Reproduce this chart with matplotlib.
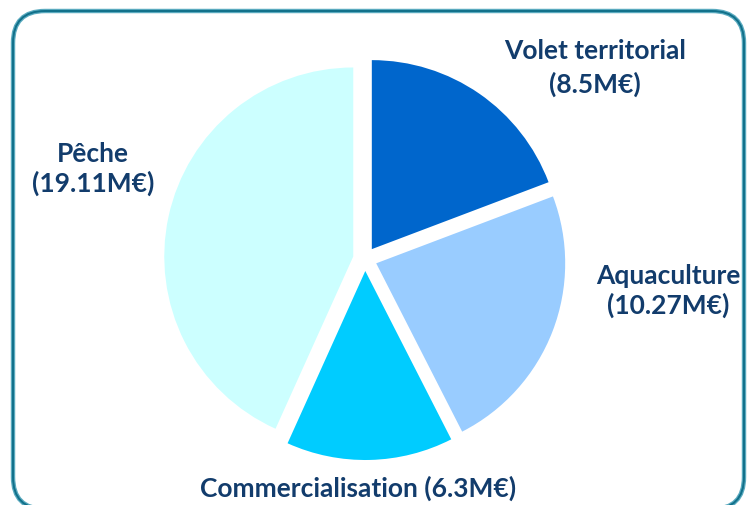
import matplotlib
matplotlib.use("Agg")
import matplotlib.pyplot as plt
from matplotlib.patches import FancyBboxPatch

# budget shares (M€)
labels = ["Volet territorial", "Aquaculture", "Commercialisation", "Pêche"]
values = [8.5, 10.27, 6.3, 19.11]
colors = ["#0066CC", "#99CCFF", "#00CCFF", "#CCFFFF"]

W, H = 748, 505
fig = plt.figure(figsize=(W / 100, H / 100), dpi=100)
ax = fig.add_axes([0, 0, 1, 1])

# work in pixel-like units, y measured upwards
cx, cy, r = 365, H - 259, 189
ax.pie(values, colors=colors, startangle=90, counterclock=False,
       center=(cx, cy), radius=r, explode=[12] * 4,
       wedgeprops=dict(linewidth=0))

ax.set_xlim(0, W)
ax.set_ylim(0, H)
ax.set_aspect("auto")
ax.axis("off")

# rounded frame (bottom edge runs just off the picture)
for lw, col in [(3.2, "#5aaabf"), (1.4, "#11708a")]:
    frame = FancyBboxPatch((13, H - 509), 731, 498,
                           boxstyle="round,pad=0,rounding_size=32",
                           fill=False, edgecolor=col, linewidth=lw, zorder=5)
    ax.add_patch(frame)

txt = dict(color="#123c6c", fontsize=19, fontweight="bold",
           family=["Lato", "DejaVu Sans"], ha="center", va="center")
ax.text(595, H - 68, "Volet territorial\n(8.5M€)", linespacing=1.4, **txt)
ax.text(668, H - 291, "Aquaculture\n(10.27M€)", linespacing=1.2, **txt)
ax.text(93, H - 169, "Pêche\n(19.11M€)", linespacing=1.2, **txt)
ax.text(358, H - 488, "Commercialisation (6.3M€)", **txt)

fig.savefig("out.png", dpi=100)
